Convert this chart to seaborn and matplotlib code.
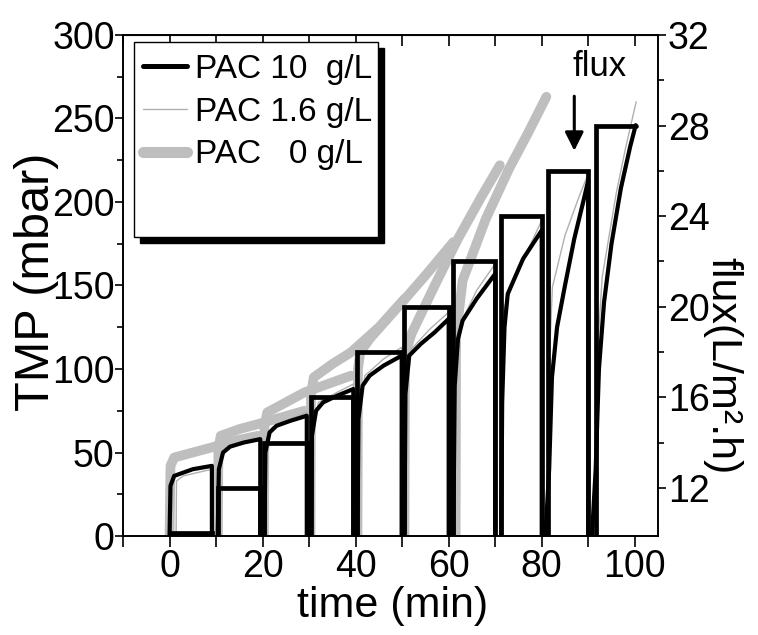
import matplotlib
matplotlib.use("Agg")
import matplotlib.pyplot as plt
import matplotlib.patches as mpatches
from matplotlib.lines import Line2D
from matplotlib.ticker import MultipleLocator, FixedLocator
import pandas as pd
import seaborn as sns

# flux steps (right axis): level, time it is switched on and off
flux_level = [10, 12, 14, 16, 18, 20, 22, 24, 26, 28]
flux_on = [0, 10.35, 20.4, 30.4, 40.4, 50.5, 61.0, 71.3, 81.4, 91.6]
flux_off = [9.1, 19.5, 29.5, 39.5, 49.9, 60.0, 70.0, 80.0, 90.0, 100.2]

# TMP, PAC 10 g/L (one list per filtration step)
pac10_t = [
    [0, 0.2, 1, 5, 9.1, 9.1],
    [10.35, 10.6, 11.5, 13, 16, 19.5, 19.5],
    [20.4, 20.6, 21.5, 23, 26, 29.5, 29.5],
    [30.4, 30.6, 31.5, 33, 36, 39.5, 39.5],
    [40.4, 40.6, 41.5, 43, 46, 49.9, 49.9],
    [50.5, 50.7, 51.5, 54, 57, 60, 60],
    [61, 61.3, 62, 63, 66, 70, 70],
    [71.3, 71.5, 72, 72.7, 76, 80, 80],
    [80.8, 81.6, 82.2, 83.3, 85, 87, 89, 90, 90],
    [90.8, 91.6, 92.3, 93.4, 95, 97, 99, 100.2],
]
pac10_tmp = [
    [0, 30, 36, 40, 42, 0],
    [0, 40, 50, 53.5, 56, 58, 0],
    [0, 50, 62, 66, 69, 72, 0],
    [0, 60, 75, 80, 84, 88, 0],
    [0, 70, 90, 96, 102, 108, 0],
    [0, 85, 108, 115, 122, 130, 0],
    [0, 90, 118, 129, 142, 157, 0],
    [0, 80, 125, 145, 166, 183, 0],
    [0, 40, 95, 125, 150, 178, 201, 213, 0],
    [0, 40, 100, 140, 175, 208, 233, 246],
]

# TMP, PAC 1.6 g/L
pac16_t = [
    [1.4, 1.5, 3, 9.1, 9.1],
    [10.8, 10.9, 12, 16, 19.5, 19.5],
    [20.8, 20.9, 22, 26, 29.5, 29.5],
    [30.8, 30.9, 32, 36, 39.5, 39.5],
    [40.8, 40.9, 42, 46, 49.9, 49.9],
    [50.9, 51, 52, 56, 60, 60],
    [61.3, 61.4, 62.5, 66, 70, 70],
    [71.6, 71.7, 72, 75, 78, 80, 80],
    [81.6, 81.7, 82.3, 85, 88, 90, 90],
    [92, 92.2, 93, 96, 98, 100.3],
]
pac16_tmp = [
    [0, 33, 36, 40, 0],
    [0, 45, 52, 56, 59, 0],
    [0, 55, 65, 70, 74, 0],
    [0, 65, 80, 86, 91, 0],
    [0, 75, 96, 106, 113, 0],
    [0, 85, 112, 124, 134, 0],
    [0, 100, 127, 147, 163, 0],
    [0, 100, 137, 160, 177, 189, 0],
    [0, 110, 149, 180, 203, 217, 0],
    [0, 120, 155, 205, 232, 260],
]

# TMP, PAC 0 g/L
pac0_t = [
    [0, 0.2, 1, 5, 9, 14, 19],
    [10.4, 10.5, 11, 15, 19, 24, 29],
    [20.3, 20.4, 21, 25, 29, 34, 39],
    [30.3, 30.4, 31, 35, 39, 45, 50.5],
    [40.4, 40.5, 41, 43, 50, 55, 61],
    [50.5, 50.6, 51, 52, 57, 62, 67, 71],
    [61.5, 61.6, 63, 68, 73, 77, 81],
]
pac0_tmp = [
    [0, 42, 47, 50, 53, 57, 60],
    [0, 52, 60, 64, 67, 71, 75],
    [0, 66, 74, 80, 86, 91, 96],
    [0, 85, 95, 103, 110, 125, 142],
    [0, 100, 110, 118, 140, 156, 176],
    [0, 100, 112, 121, 150, 178, 203, 222],
    [0, 120, 153, 190, 220, 241, 263],
]

legend_labels = ["PAC 10  g/L", "PAC 1.6 g/L", "PAC   0 g/L"]

GREY = "#bebebe"
THIN_GREY = "#b0b0b0"


def _to_frame(times, values) -> pd.DataFrame:
    rows = []
    for seg, (ts, vs) in enumerate(zip(times, values)):
        for t, v in zip(ts, vs):
            rows.append({"time": t, "TMP": v, "seg": seg})
    return pd.DataFrame(rows)


def _flux_frame() -> pd.DataFrame:
    rows = []
    n = len(flux_level)
    for k in range(n):
        rows.append({"time": flux_on[k], "flux": 0})
        rows.append({"time": flux_on[k], "flux": flux_level[k]})
        rows.append({"time": flux_off[k], "flux": flux_level[k]})
        if k < n - 1:
            rows.append({"time": flux_off[k], "flux": 0})
    return pd.DataFrame(rows)


sns.set_style("ticks")
plt.rcParams["font.family"] = ["Liberation Sans", "DejaVu Sans"]
for key in ["text.color", "axes.labelcolor", "xtick.color", "ytick.color", "axes.edgecolor"]:
    plt.rcParams[key] = "black"

fig = plt.figure(figsize=(7.58, 6.35), dpi=100)
ax = fig.add_axes([0.1623, 0.1559, 0.7058, 0.789])

line_kw = dict(units="seg", estimator=None, sort=False, legend=False, ax=ax)
sns.lineplot(data=_to_frame(pac0_t, pac0_tmp), x="time", y="TMP", color=GREY,
             linewidth=7, solid_capstyle="round", solid_joinstyle="round", **line_kw)
sns.lineplot(data=_to_frame(pac16_t, pac16_tmp), x="time", y="TMP", color=THIN_GREY,
             linewidth=1.0, **line_kw)
sns.lineplot(data=_to_frame(pac10_t, pac10_tmp), x="time", y="TMP", color="black",
             linewidth=3.0, solid_joinstyle="round", **line_kw)

ax.set_xlim(-10, 105)
ax.set_ylim(0, 300)
ax.xaxis.set_major_locator(MultipleLocator(20))
ax.xaxis.set_minor_locator(MultipleLocator(10))
ax.yaxis.set_major_locator(MultipleLocator(50))
ax.yaxis.set_minor_locator(MultipleLocator(25))
ax.tick_params(axis="x", which="both", direction="out", length=8, width=1.2,
               labelsize=27, pad=1)
ax.tick_params(axis="y", which="major", direction="out", length=6, width=1.2,
               labelsize=27, pad=0)
ax.tick_params(axis="y", which="minor", direction="out", length=4, width=1.2)
for sp in ax.spines.values():
    sp.set_linewidth(1.2)

top = ax.secondary_xaxis("top")
top.xaxis.set_major_locator(MultipleLocator(10))
top.tick_params(direction="in", length=8, width=1.2, labeltop=False)

ax.set_xlabel("time (min)", fontsize=31, va="center")
ax.xaxis.set_label_coords(0.503, -0.14)
ax.set_ylabel("TMP (mbar)", fontsize=35, va="center")
ax.yaxis.set_label_coords(-0.162, 0.507)

# flux on the right axis
ax2 = ax.twinx()
sns.lineplot(data=_flux_frame(), x="time", y="flux", color="black", linewidth=3.4,
             estimator=None, sort=False, legend=False, ax=ax2,
             solid_joinstyle="miter")
ax2.set_ylim(9.88, 32)
ax2.yaxis.set_major_locator(MultipleLocator(4))
ax2.yaxis.set_minor_locator(FixedLocator([14, 18, 22, 26, 30]))
ax2.tick_params(axis="y", which="major", direction="out", length=6, width=1.2,
                labelsize=27, pad=1)
ax2.tick_params(axis="y", which="minor", direction="out", length=4, width=1.2)
ax2.set_ylabel("flux(L/m².h)", fontsize=31, rotation=270, va="center", ha="center")
ax2.yaxis.set_label_coords(1.12, 0.34)
for sp in ax2.spines.values():
    sp.set_linewidth(1.2)

# arrow marking the flux steps
ax.annotate("", xy=(87, 229), xytext=(87, 265),
            arrowprops=dict(arrowstyle="-|>", color="black", lw=2.2, mutation_scale=28))
ax.text(92.5, 281, "flux", fontsize=25, ha="center", va="center")

# legend box with black shadow
shadow = mpatches.Rectangle((0.032, 0.585), 0.456, 0.389, transform=ax.transAxes,
                            facecolor="black", edgecolor="black", zorder=5)
box = mpatches.Rectangle((0.0206, 0.597), 0.456, 0.389, transform=ax.transAxes,
                         facecolor="white", edgecolor="black", linewidth=1.0, zorder=6)
ax2.add_patch(shadow)
ax2.add_patch(box)
handles = [
    Line2D([], [], color="black", linewidth=3.6),
    Line2D([], [], color=THIN_GREY, linewidth=1.0),
    Line2D([], [], color=GREY, linewidth=8, solid_capstyle="round"),
]
leg = ax2.legend(handles, legend_labels, loc="upper left", bbox_to_anchor=(0.038, 0.962),
                 frameon=False, fontsize=24, handlelength=1.3, handletextpad=0.25,
                 labelspacing=0.35, borderaxespad=0, borderpad=0)
leg.set_zorder(7)

fig.savefig("out.png", dpi=100)
